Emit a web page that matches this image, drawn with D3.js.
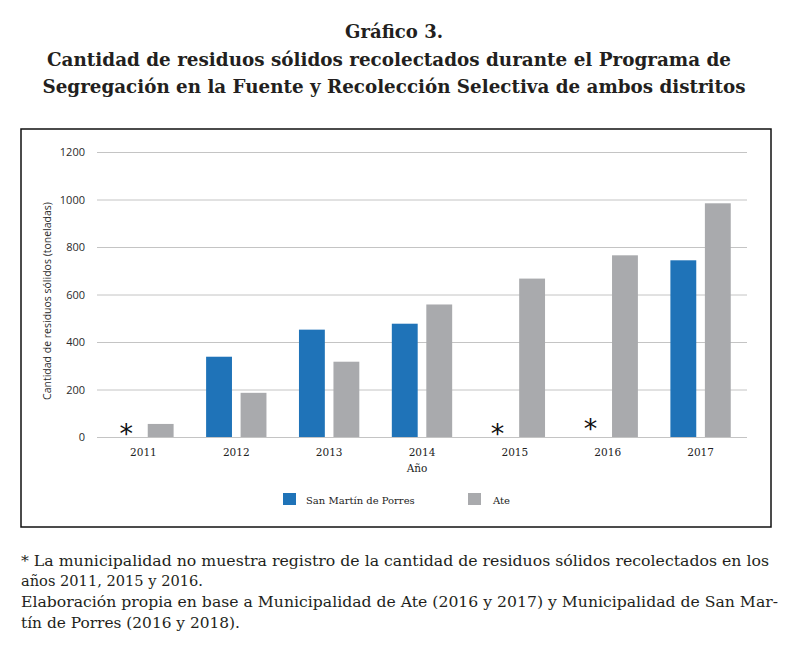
<!DOCTYPE html>
<meta charset="utf-8">
<style>
body { margin: 0; background: #fff; }
.domain { display: none; }
.yaxis .tick line { stroke: #c4c4c4; }
.yaxis .tick text { font-family: "Open Sans", sans-serif; font-size: 11px; fill: #2b2b2b; }
.xaxis .tick text { font-family: "DejaVu Serif", serif; font-size: 10.5px; fill: #222; }
</style>
<body>
<div id="chart"></div>
<script src="https://cdnjs.cloudflare.com/ajax/libs/d3/7.8.5/d3.min.js"></script>
<script>
// values (toneladas); null = no record (*)
var years = ["2011", "2012", "2013", "2014", "2015", "2016", "2017"];
var sanMartin = [null, 338, 452, 477, null, null, 744];
var ate = [55, 186, 317, 558, 667, 765, 984];
var seriesNames = ["San Martín de Porres", "Ate"];
var colors = ["#1f73b8", "#a9aaad"];
var yTicks = [0, 200, 400, 600, 800, 1000, 1200];

var titleLines = [
  "Gráfico 3.",
  "Cantidad de residuos sólidos recolectados durante el Programa de",
  "Segregación en la Fuente y Recolección Selectiva de ambos distritos"
];
var noteLines = [
  "* La municipalidad no muestra registro de la cantidad de residuos sólidos recolectados en los",
  "años 2011, 2015 y 2016.",
  "Elaboración propia en base a Municipalidad de Ate (2016 y 2017) y Municipalidad de San Mar-",
  "tín de Porres (2016 y 2018)."
];

var W = 791, H = 646;
var svg = d3.select("#chart").append("svg")
    .attr("width", W)
    .attr("height", H);

// title
var titleLen = [98, 684, 703];
var titleY = [38, 66, 93];
svg.selectAll(".title")
    .data(titleLines)
  .enter().append("text")
    .attr("class", "title")
    .attr("x", function(d, i) { return i == 1 ? 389 : 394; })
    .attr("y", function(d, i) { return titleY[i]; })
    .attr("text-anchor", "middle")
    .attr("textLength", function(d, i) { return titleLen[i]; })
    .attr("lengthAdjust", "spacingAndGlyphs")
    .style("font-family", "DejaVu Serif, serif")
    .style("font-weight", "bold")
    .style("font-size", "18px")
    .style("fill", "#231f20")
    .text(function(d) { return d; });

// frame around the chart
svg.append("rect")
    .attr("x", 21).attr("y", 129)
    .attr("width", 750).attr("height", 398)
    .attr("fill", "none")
    .attr("stroke", "#111")
    .attr("stroke-width", 1.5);

var plot = {left: 97, right: 747, top: 152, bottom: 437};

var y = d3.scaleLinear()
    .domain([0, 1200])
    .range([plot.bottom, plot.top]);

var x0 = d3.scaleBand()
    .domain(years)
    .range([plot.left, plot.right])
    .paddingInner(0.35)
    .paddingOuter(0.175);

var x1 = d3.scaleBand()
    .domain(seriesNames)
    .range([0, x0.bandwidth()])
    .paddingInner(0.25);

var g = svg.append("g");

g.append("g")
    .attr("class", "yaxis")
    .attr("transform", "translate(" + plot.left + ",0)")
    .call(d3.axisLeft(y).tickValues(yTicks).tickFormat(d3.format("d"))
      .tickSize(-(plot.right - plot.left)).tickPadding(12));

g.append("g")
    .attr("class", "xaxis")
    .attr("transform", "translate(0," + plot.bottom + ")")
    .call(d3.axisBottom(x0).tickSize(0).tickPadding(12));

var rows = years.map(function(yr, i) {
  return {year: yr, values: [sanMartin[i], ate[i]]};
});

var groups = g.selectAll(".grp")
    .data(rows)
  .enter().append("g")
    .attr("class", "grp")
    .attr("transform", function(d) { return "translate(" + x0(d.year) + ",0)"; });

groups.selectAll("rect")
    .data(function(d) {
      return d.values.map(function(v, j) { return {key: seriesNames[j], value: v, idx: j}; })
        .filter(function(e) { return e.value != null; });
    })
  .enter().append("rect")
    .attr("x", function(d) { return x1(d.key); })
    .attr("y", function(d) { return y(d.value); })
    .attr("width", x1.bandwidth())
    .attr("height", function(d) { return y(0) - y(d.value); })
    .attr("fill", function(d) { return colors[d.idx]; });

// asterisks where San Martín has no record
groups.filter(function(d) { return d.values[0] == null; })
  .append("text")
    .attr("x", x1(seriesNames[0]) + x1.bandwidth() / 2)
    .attr("y", function(d) { return y(0) + (d.year == "2016" ? 1 : 6); })
    .attr("text-anchor", "middle")
    .style("font-family", "DejaVu Sans, sans-serif")
    .style("font-size", "27px")
    .style("fill", "#111")
    .text("*");

// axis titles
svg.append("text")
    .attr("x", (plot.left + plot.right) / 2 - 5)
    .attr("y", 472)
    .attr("text-anchor", "middle")
    .style("font-family", "DejaVu Serif, serif")
    .style("font-size", "10.5px")
    .style("fill", "#222")
    .text("Año");

svg.append("text")
    .attr("transform", "translate(51,301) rotate(-90)")
    .attr("text-anchor", "middle")
    .style("font-family", "Open Sans, sans-serif")
    .style("font-size", "10.5px")
    .style("fill", "#2b2b2b")
    .text("Cantidad de residuos sólidos (toneladas)");

// legend
var legendX = [283, 468];
var legend = svg.selectAll(".legend")
    .data(seriesNames)
  .enter().append("g")
    .attr("class", "legend")
    .attr("transform", function(d, i) { return "translate(" + legendX[i] + ",493)"; });

legend.append("rect")
    .attr("width", 13).attr("height", 12)
    .attr("fill", function(d, i) { return colors[i]; });

legend.append("text")
    .attr("x", function(d, i) { return i == 0 ? 23 : 25; })
    .attr("y", 10.5)
    .style("font-family", "DejaVu Serif, serif")
    .style("font-size", "10px")
    .style("fill", "#222")
    .text(function(d) { return d; });

// footnote
var noteLen = [748, 182, 757, 219];
var noteY = [566, 586, 607, 628];
svg.selectAll(".note")
    .data(noteLines)
  .enter().append("text")
    .attr("class", "note")
    .attr("x", 21)
    .attr("y", function(d, i) { return noteY[i]; })
    .attr("textLength", function(d, i) { return noteLen[i]; })
    .attr("lengthAdjust", "spacingAndGlyphs")
    .style("font-family", "DejaVu Serif, serif")
    .style("font-size", "14.5px")
    .style("fill", "#231f20")
    .text(function(d) { return d; });
</script>
</body>
